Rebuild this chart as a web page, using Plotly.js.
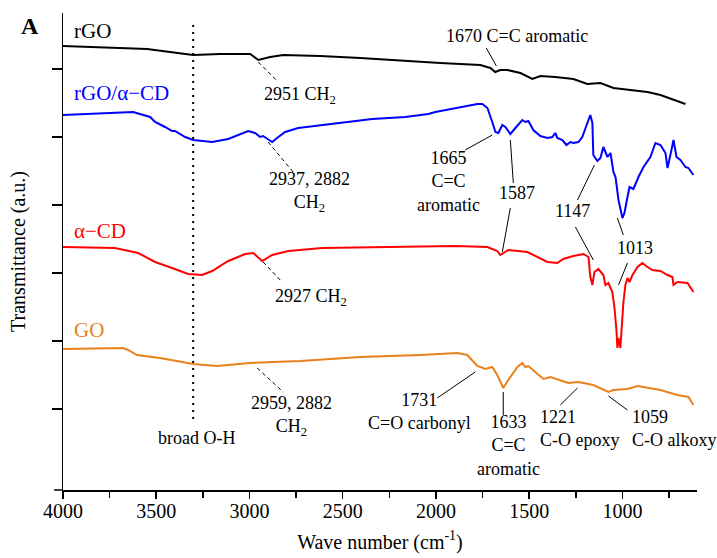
<!DOCTYPE html>
<html>
<head>
<meta charset="utf-8">
<script src="https://cdn.plot.ly/plotly-3.0.1.min.js"></script>
<style>html,body{margin:0;padding:0;background:#fff;}</style>
</head>
<body>
<div id="chart" style="width:717px;height:558px;"></div>
<script>
// ---- Data (wavenumber in cm^-1, transmittance in arbitrary offset units) ----
const rgoWn = [4000,3801,3549,3426,3302,3157,2996,2953,2889,2819,2621,2406,2175,1977,1762,1708,1682,1655,1617,1547,1483,1440,1360,1263,1188,1118,1048,957,866,796,732,662];
const rgoT  = [444,443,441,438,435,436,436,430,433,435,434,432,429,427,425,422,418,420,420,417,411,414,413,411,406,407,402,400,398,395,391,386];

const rgoCdWn = [4000,3667,3624,3533,3506,3453,3415,3399,3345,3302,3200,3114,3007,2970,2943,2927,2878,2852,2809,2739,2524,2342,2165,2041,2003,1896,1778,1751,1724,1698,1681,1665,1644,1628,1601,1574,1537,1521,1504,1478,1440,1402,1376,1360,1349,1322,1300,1279,1263,1236,1215,1188,1172,1161,1156,1134,1118,1102,1080,1064,1048,1037,1021,1000,989,978,962,941,914,887,850,823,796,769,758,737,726,710,689,662,646,619];
const rgoCdT  = [375,378,378,373,368,363,359,359,353,350,348,351,359,357,353,354,348,352,358,362,367,371,373,376,378,382,386,386,382,368,358,357,365,363,356,362,370,368,369,360,354,352,353,357,352,350,345,348,347,348,353,367,375,367,335,329,332,343,333,337,318,313,290,272,277,288,303,301,313,323,333,347,345,337,322,340,350,333,330,323,322,315];

const acdWn = [4000,3721,3597,3506,3415,3329,3254,3200,3114,3023,2980,2932,2878,2792,2610,2256,1896,1724,1671,1655,1639,1612,1510,1456,1402,1349,1317,1263,1209,1182,1172,1161,1150,1129,1102,1091,1075,1054,1043,1032,1027,1021,1011,995,984,973,962,946,919,893,866,839,796,758,732,726,705,651,635,619];
const acdT  = [243,242,237,228,222,216,215,219,229,236,237,229,235,239,242,243,244,243,239,235,237,240,238,233,228,227,231,234,236,233,213,205,218,221,215,205,207,198,183,160,142,152,142,187,205,212,208,215,223,227,223,220,219,215,213,205,208,207,203,198];

const goWn = [4000,3678,3651,3603,3479,3302,3174,2996,2728,2406,2084,1885,1832,1778,1735,1698,1671,1639,1612,1563,1537,1521,1504,1467,1424,1386,1333,1290,1236,1156,1075,1048,973,919,796,705,646,619];
const goT  = [141,142,140,135,132,126,124,127,129,133,135,137,135,124,121,123,115,102,110,123,127,123,124,118,111,113,110,107,108,105,98,100,101,104,100,95,93,85];

const seriesNames  = ['rGO', 'rGO/α−CD', 'α−CD', 'GO'];
const seriesColors = ['#000000', '#0000ff', '#ff0000', '#e8811c'];
const xTickStep = 500;
const yTickVals = [81, 149, 217, 285, 353, 421];

const serif = '"Liberation Serif", "Times New Roman", serif';

const traces = [
  {x: rgoWn, y: rgoT},
  {x: rgoCdWn, y: rgoCdT},
  {x: acdWn, y: acdT},
  {x: goWn, y: goT}
].map((d, i) => ({
  x: d.x, y: d.y, type: 'scatter', mode: 'lines', name: seriesNames[i],
  line: {color: seriesColors[i], width: 2}, hoverinfo: 'skip'
}));

// annotation helper
function lab(x, y, text, opts) {
  return Object.assign({x: x, y: y, xref: 'x', yref: 'y', text: text, showarrow: false,
    font: {family: serif, size: 18, color: '#000'}, xanchor: 'center', yanchor: 'middle'}, opts || {});
}
function seg(x0, y0, x1, y1, dash) {
  return {type: 'line', xref: 'x', yref: 'y', x0: x0, y0: y0, x1: x1, y1: y1,
    line: {color: '#000', width: 1, dash: dash || 'solid'}};
}

const annotations = [
  // series names
  lab(3952, 459, seriesNames[0], {xanchor: 'left', font: {family: serif, size: 21, color: seriesColors[0]}}),
  lab(3952, 397, seriesNames[1], {xanchor: 'left', font: {family: serif, size: 21, color: seriesColors[1]}}),
  lab(3952, 259, seriesNames[2], {xanchor: 'left', font: {family: serif, size: 21, color: seriesColors[2]}}),
  lab(3952, 160, seriesNames[3], {xanchor: 'left', font: {family: serif, size: 21, color: seriesColors[3]}}),
  // peak labels
  lab(2728, 395, '2951 CH<sub>2</sub>'),
  lab(1563, 454, '1670 C=C aromatic'),
  lab(2680, 298, '2937, 2882<br>CH<sub>2</sub>'),
  lab(1934, 309, '1665<br>C=C<br>aromatic'),
  lab(1563, 297, '1587'),
  lab(1268, 279, '1147'),
  lab(930, 242, '1013'),
  lab(2669, 193, '2927 CH<sub>2</sub>'),
  lab(2776, 74, '2959, 2882<br>CH<sub>2</sub>'),
  lab(3286, 52, 'broad O-H'),
  lab(2089, 79, '1731<br>C=O carbonyl'),
  lab(1612, 45, '1633<br>C=C<br>aromatic'),
  lab(1451, 62, '1221<br>C-O epoxy', {xanchor: 'left', align: 'left'}),
  lab(962, 62, '1059<br>C-O alkoxy', {xanchor: 'left', align: 'left'}),
  // panel letter
  {x: -0.052, y: 0.973, xref: 'paper', yref: 'paper', text: '<b>A</b>', showarrow: false,
   font: {family: serif, size: 24, color: '#000'}, xanchor: 'center', yanchor: 'middle'}
];

const dashed = '4px,3px';
const shapes = [
  // broad O-H dotted marker
  {type: 'line', xref: 'x', yref: 'y', x0: 3302, x1: 3302, y0: 465, y1: 70,
   line: {color: '#000', width: 2, dash: '2px,5px'}},
  seg(2953, 428, 2846, 408, dashed),
  seg(1730, 442, 1676, 424),
  seg(2900, 348, 2766, 318, dashed),
  seg(1843, 340, 1698, 355),
  seg(1601, 350, 1585, 307),
  seg(1601, 282, 1644, 238),
  seg(1150, 325, 1241, 290),
  seg(1252, 263, 1156, 230),
  seg(1027, 272, 995, 255),
  seg(973, 227, 1021, 205),
  seg(2927, 228, 2825, 208, dashed),
  seg(2959, 122, 2819, 98, dashed),
  seg(1993, 92, 1789, 118),
  seg(1639, 98, 1639, 75),
  seg(1333, 85, 1241, 102),
  seg(1075, 94, 973, 80),
  // x-axis line overhang to the left of the y axis
  {type: 'line', xref: 'paper', yref: 'paper', x0: -0.014, x1: 0, y0: 0, y1: 0,
   line: {color: '#000', width: 1.5}}
];

const layout = {
  width: 717, height: 558,
  margin: {l: 63, r: 20, t: 13, b: 68, pad: 0},
  paper_bgcolor: '#fff', plot_bgcolor: '#fff',
  showlegend: false,
  font: {family: serif, color: '#000'},
  xaxis: {
    range: [4000, 600], autorange: false, dtick: xTickStep, tick0: 0,
    showgrid: false, zeroline: false, showline: true, linecolor: '#000', linewidth: 1.5,
    ticks: 'outside', ticklen: 7, tickwidth: 1.5, tickcolor: '#000',
    ticklabelstandoff: -5,
    tickfont: {family: serif, size: 20, color: '#000'},
    minor: {dtick: 250, ticks: 'outside', ticklen: 6, tickwidth: 1.5, tickcolor: '#000'},
    title: {text: 'Wave number (cm<sup>-1</sup>)', font: {family: serif, size: 20, color: '#000'}, standoff: 14}
  },
  yaxis: {
    range: [0, 477], autorange: false, tickvals: yTickVals, showticklabels: false,
    showgrid: false, zeroline: false, showline: true, linecolor: '#000', linewidth: 1.5,
    ticks: 'outside', ticklen: 10, tickwidth: 1.5, tickcolor: '#000',
    title: {text: 'Transmittance (a.u.)', font: {family: serif, size: 20, color: '#000'}, standoff: 20}
  },
  annotations: annotations,
  shapes: shapes
};

Plotly.newPlot('chart', traces, layout, {staticPlot: true, displayModeBar: false});
</script>
</body>
</html>
